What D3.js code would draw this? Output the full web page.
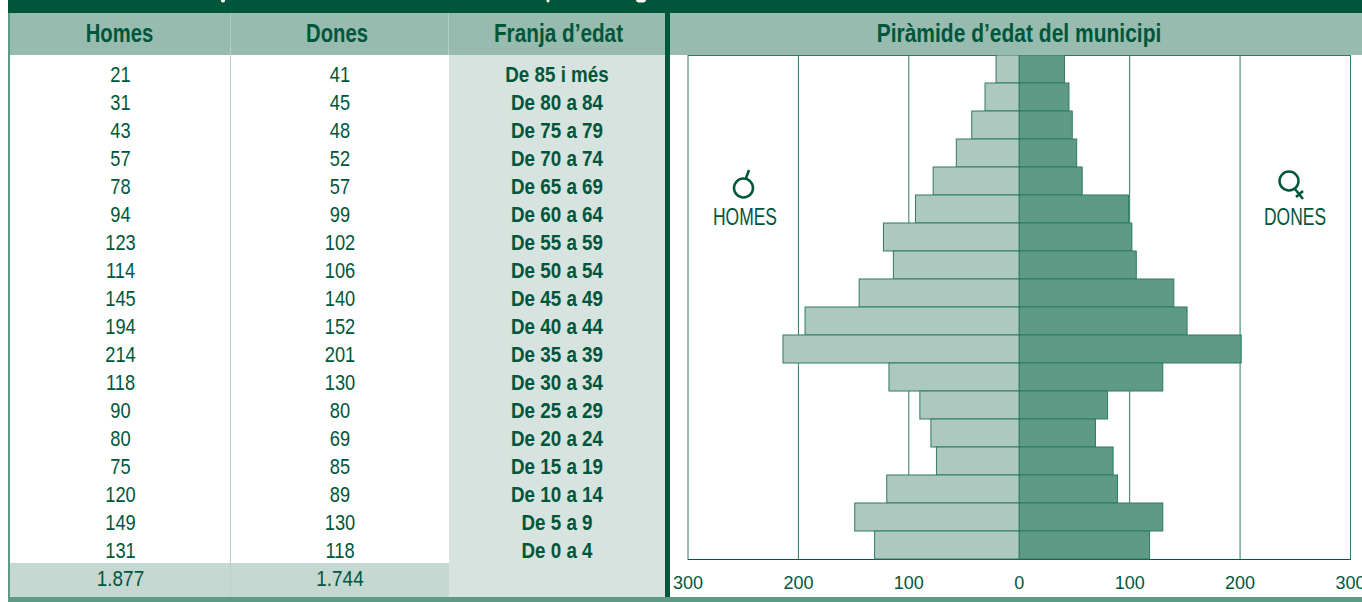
<!DOCTYPE html>
<html><head><meta charset="utf-8">
<script src="https://cdn.jsdelivr.net/npm/d3@7"></script>
<style>html,body{margin:0;padding:0;background:#fff;overflow:hidden}svg{display:block}
text{font-family:"Liberation Sans",sans-serif}</style></head>
<body><div id="chart"></div>
<script>
const ageBands=["De 85 i més","De 80 a 84","De 75 a 79","De 70 a 74","De 65 a 69","De 60 a 64","De 55 a 59","De 50 a 54","De 45 a 49","De 40 a 44","De 35 a 39","De 30 a 34","De 25 a 29","De 20 a 24","De 15 a 19","De 10 a 14","De 5 a 9","De 0 a 4"];
const homes=[21,31,43,57,78,94,123,114,145,194,214,118,90,80,75,120,149,131];
const dones=[41,45,48,52,57,99,102,106,140,152,201,130,80,69,85,89,130,118];
const totals=["1.877","1.744"];
const columnHeads=["Homes","Dones","Franja d’edat","Piràmide d’edat del municipi"];
const axisTicks=[300,200,100,0,100,200,300];

const DARK="#00563b",HEAD="#97bcaf",MID="#5e9a85",LIGHT="#adc9bf",PALE="#d6e3de",TOTAL="#c5d8d1",TEXT="#00563b",LINE="#2f7a62";
const svg=d3.select("#chart").append("svg").attr("width",1362).attr("height",602);
const rect=(x,y,w,h,f)=>svg.append("rect").attr("x",x).attr("y",y).attr("width",w).attr("height",h).attr("fill",f);
const place=(x,y,sx)=>`translate(${x},${y}) scale(${sx},1)`;
const label=(s,x,y,size,weight,sx)=>svg.append("text").text(s).attr("transform",place(x,y,sx||0.83)).attr("text-anchor","middle")
  .attr("font-size",size).attr("font-weight",weight||"normal").attr("fill",TEXT);

const rowY=d3.scaleBand().domain(d3.range(ageBands.length)).range([55,559]);
const x=d3.scaleLinear().domain([-300,300]).range([688,1350.5]);

// frame and bands
rect(8,0,1354,13,DARK);
rect(8,13,1354,42,HEAD);
rect(449,55,217,542,PALE);
rect(10,563,439,34,TOTAL);
rect(230,13,1,42,"#b4cec5");
rect(448,13,1,42,"#b4cec5");
rect(230,55,1,508,"#b9d0c8");
rect(230,563,1,34,"#b9d0c8");
rect(8,13,2,589,MID);
rect(8,597,1354,5,MID);
rect(665,13,5,584,DARK);
// clipped descenders of the cut-off title above the table
svg.append("g").selectAll("ellipse").data([[223,2.2],[548,1.6],[641,5]]).join("ellipse")
  .attr("cx",d=>d[0]).attr("cy",0).attr("rx",d=>d[1]).attr("ry",2.6).attr("fill","#fff");

// headers
label(columnHeads[0],119.5,42,25,"bold",0.81);
label(columnHeads[1],337,42,25,"bold",0.81);
label(columnHeads[2],558.5,42,25,"bold",0.83);
label(columnHeads[3],1019,42,25,"bold",0.84);

// table rows
const base=i=>rowY(i)+rowY.bandwidth()/2+13;
svg.append("g").selectAll("text").data(homes).join("text").text(d=>d).attr("transform",(d,i)=>place(120.5,base(i),0.83))
  .attr("text-anchor","middle").attr("font-size",22).attr("fill",TEXT);
svg.append("g").selectAll("text").data(dones).join("text").text(d=>d).attr("transform",(d,i)=>place(340,base(i),0.83))
  .attr("text-anchor","middle").attr("font-size",22).attr("fill",TEXT);
svg.append("g").selectAll("text").data(ageBands).join("text").text(d=>d).attr("transform",(d,i)=>place(557,base(i),0.855))
  .attr("text-anchor","middle").attr("font-size",22).attr("font-weight","bold").attr("fill",TEXT);
label(totals[0],120.5,586,22,"normal",0.86);
label(totals[1],340,586,22,"normal",0.86);

// grid
const gridTicks=[-300,-200,-100,100,200,300];
svg.append("g").selectAll("line").data(gridTicks).join("line")
  .attr("x1",d=>x(d)).attr("x2",d=>x(d)).attr("y1",55).attr("y2",560)
  .attr("stroke",LINE).attr("stroke-width",1);
svg.append("line").attr("x1",x(-300)).attr("x2",x(300)).attr("y1",559.5).attr("y2",559.5).attr("stroke",DARK).attr("stroke-width",1);
svg.append("line").attr("x1",x(-300)).attr("x2",x(300)).attr("y1",55.5).attr("y2",55.5).attr("stroke",LINE).attr("stroke-width",1);

// bars
svg.append("g").selectAll("rect").data(homes).join("rect")
  .attr("x",d=>x(-d)).attr("width",d=>x(0)-x(-d)).attr("y",(d,i)=>rowY(i)).attr("height",rowY.bandwidth())
  .attr("fill",LIGHT).attr("stroke",LINE).attr("stroke-width",1);
svg.append("g").selectAll("rect").data(dones).join("rect")
  .attr("x",x(0)).attr("width",d=>x(d)-x(0)).attr("y",(d,i)=>rowY(i)).attr("height",rowY.bandwidth())
  .attr("fill",MID).attr("stroke",LINE).attr("stroke-width",1);
rect(x(-homes[0])-1,53,x(dones[0])-x(-homes[0])+2,2,HEAD);

// axis labels
const tickX=d3.scalePoint().domain(d3.range(axisTicks.length)).range([x(-300),x(300)]);
svg.append("g").selectAll("text").data(axisTicks).join("text").text(d=>d)
  .attr("x",(d,i)=>tickX(i)).attr("y",589).attr("text-anchor","middle")
  .attr("font-size",18).attr("fill",TEXT);

// gender symbols
svg.append("circle").attr("cx",743.5).attr("cy",188).attr("r",9.5).attr("fill","none").attr("stroke",DARK).attr("stroke-width",2.5);
svg.append("path").attr("d","M746 178L749 170").attr("stroke",DARK).attr("stroke-width",2.5);
svg.append("circle").attr("cx",1289).attr("cy",181).attr("r",9.5).attr("fill","none").attr("stroke",DARK).attr("stroke-width",2.5);
svg.append("path").attr("d","M1295 189L1303 199M1296 197L1303 191").attr("stroke",DARK).attr("stroke-width",2.5).attr("fill","none");
label("HOMES",745,225,23,"normal",0.76);
label("DONES",1295,225,23,"normal",0.76);
</script></body></html>
